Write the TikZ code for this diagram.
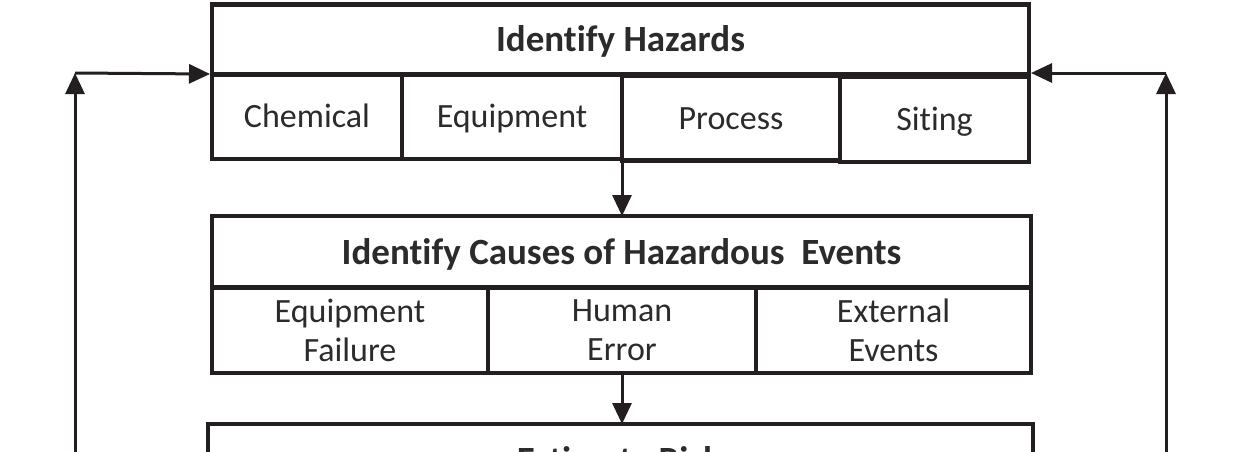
\documentclass[tikz,border=0pt]{standalone}
\usepackage{fontspec}
\setmainfont{Carlito}[Ligatures={NoCommon,NoContextual}]
\usetikzlibrary{arrows.meta}
\definecolor{ink}{HTML}{231F20}
\definecolor{txt}{HTML}{2B2B2B}
\tikzset{
  cell/.style={draw=ink, line width=4.5pt, inner sep=0pt, outer sep=0pt, align=center,
    text=txt, font=\fontsize{34}{39}\selectfont},
  onel/.style={cell, text height=22pt, text depth=0pt},
  head/.style={cell, font=\fontsize{37}{42}\selectfont\bfseries, text height=24pt, text depth=0pt},
  arr/.style={draw=ink, line width=3pt, -{Triangle[length=21pt,width=19pt]}},
}
\begin{document}
\begin{tikzpicture}[x=1pt,y=-1pt]
\useasboundingbox (0,0) rectangle (1239,451);
\fill[white] (0,0) rectangle (1239,451);
\clip (0,0) rectangle (1239,451);
% box 1
\node[head, minimum width=817pt, minimum height=70pt] (hz) at (620.5,39.5) {Identify Hazards};
\node[onel, minimum width=190pt, minimum height=85pt] (chem) at (307,116.5) {Chemical};
\node[onel, minimum width=220pt, minimum height=85pt] (equip) at (512,116.5) {Equipment};
\node[onel, minimum width=218pt, minimum height=85pt] (proc) at (731,118) {Process};
\node[onel, minimum width=189pt, minimum height=85pt] (site) at (934.5,119.5) {Siting};
% box 2
\node[head, minimum width=819pt, minimum height=72pt] (cause) at (621.5,252) {Identify Causes of Hazardous\ \ Events};
\node[cell, minimum width=276pt, minimum height=86pt] (eqf) at (350,330) {Equipment\\Failure};
\node[cell, minimum width=268pt, minimum height=86pt] (hum) at (622,330) {Human\\Error};
\node[cell, minimum width=275pt, minimum height=86pt] (ext) at (893.5,330) {External\\Events};
% box 3 (cut off)
\node[cell, minimum width=825pt, minimum height=110pt] (risk) at (620.5,479) {};
\node[text=txt, font=\fontsize{37}{42}\selectfont\bfseries, inner sep=0pt, text height=24pt, text depth=0pt] (riskt) at (619,460) {Estimate Risk};
% arrows down
\draw[arr] (equip.south east) -- (equip.south east |- cause.north);
\draw[arr] (hum.south) -- (hum.south |- risk.north);
% feedback loops
\coordinate (lb) at (75,500);
\coordinate (lt) at (75,73);
\coordinate (rb) at (1166,500);
\coordinate (rt) at (1166,73);
\draw[arr] (lb) -- (lt);
\draw[arr] (lt) -- ([xshift=-2pt]chem.north west);
\draw[arr] (rb) -- (rt);
\draw[arr] (rt) -- ([xshift=2pt]site.north east |- lt);
\end{tikzpicture}
\end{document}
